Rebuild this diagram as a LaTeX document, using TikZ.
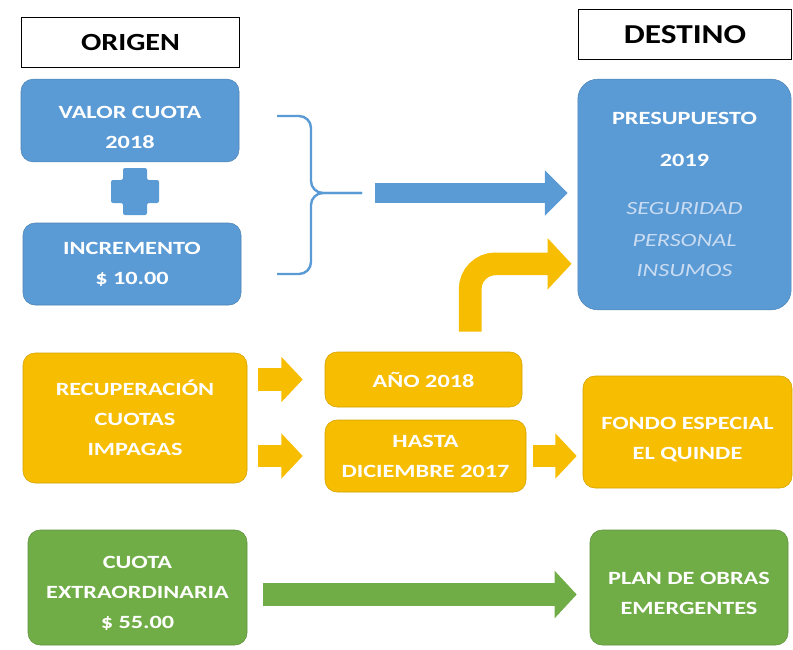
\documentclass[tikz,border=0pt]{standalone}
\usepackage{fontspec}
\setmainfont{Carlito}[FakeStretch=1.3]
\newfontfamily\hdrfont{Carlito}[FakeStretch=1.22]
\usetikzlibrary{arrows.meta}

\definecolor{cblue}{HTML}{5B9BD5}
\definecolor{cyellow}{HTML}{F7BD00}
\definecolor{cgreen}{HTML}{70AD47}
\definecolor{clight}{HTML}{CADCF2}

\newcommand{\lite}[1]{{\mdseries\itshape\color{clight}#1}}
\newcommand{\push}[1]{\rule{0pt}{#1}}

\tikzset{
  hdr/.style={draw=black, line width=0.9pt, fill=white, font=\hdrfont\bfseries\fontsize{18.5}{22}\selectfont},
  box/.style={rounded corners=9pt, align=center, text=white, line width=0.4pt,
    font=\bfseries\fontsize{14}{22.5}\selectfont},
  bbox/.style={box, fill=cblue, draw=cblue!85!black},
  ybox/.style={box, fill=cyellow, draw=cyellow!85!black},
  gbox/.style={box, fill=cgreen, draw=cgreen!85!black},
  yarr/.style={cyellow, line width=17pt, -{Triangle[length=16pt, width=33pt]}},
}

\begin{document}
\begin{tikzpicture}[x=0.75pt, y=-0.75pt]
\useasboundingbox (0,0) rectangle (793,650);

% headings
\node[hdr, minimum width=164pt, minimum height=37pt] (origen) at (130.5,42.5) {ORIGEN};
\node[hdr, minimum width=160pt, minimum height=37pt, font=\hdrfont\bfseries\fontsize{20.5}{24}\selectfont] (destino) at (685,34.5) {DESTINO};

% blue row
\node[bbox, minimum width=163.5pt, minimum height=62pt] (valor) at (130,120.5) {\push{20pt}VALOR CUOTA\\2018};
\node[bbox, minimum width=163.5pt, minimum height=61.5pt] (incremento) at (132,264) {INCREMENTO\\\$ 10.00};
\node[bbox, rounded corners=15pt, minimum width=160pt, minimum height=173pt] (presup) at (684.5,194.5)
  {PRESUPUESTO\\[9pt]2019\\[13.5pt]\lite{SEGURIDAD}\\[1.5pt]\lite{PERSONAL}\\\lite{INSUMOS}};

\fill[cblue, rounded corners=1.5pt] (123,168) -- (147,168) -- (147,180) -- (159,180) -- (159,203)
  -- (147,203) -- (147,215) -- (123,215) -- (123,203) -- (111,203) -- (111,180) -- (123,180) -- cycle;

\coordinate (tip) at (362,193);
\draw[cblue, line width=1.8pt, rounded corners=9pt] (277,116) -- (311,116) -- (311,193) -- (tip);
\draw[cblue, line width=1.8pt, rounded corners=9pt] (277,274) -- (311,274) -- (311,193) -- (tip);
\draw[cblue, line width=15pt, -{Triangle[length=17pt, width=33pt]}] ([xshift=9.75pt]tip) -- ([xshift=-7.5pt]tip -| presup.west);

% yellow row
\node[ybox, minimum width=168pt, minimum height=97.5pt] (recup) at (135,418) {RECUPERACIÓN\\CUOTAS\\IMPAGAS};
\node[ybox, minimum width=147.75pt, minimum height=41.25pt] (anio) at (423.5,379.5) {AÑO 2018};
\node[ybox, minimum width=150.75pt, minimum height=54pt] (hasta) at (425.5,456) {HASTA\\DICIEMBRE 2017};
\node[ybox, minimum width=156.75pt, minimum height=84pt] (fondo) at (687.5,432) {\push{20pt}FONDO ESPECIAL\\EL QUINDE};

\draw[yarr] ([xshift=8.25pt]recup.east |- anio.west) -- ([xshift=-16.5pt]anio.west);
\draw[yarr] ([xshift=8.25pt]recup.east |- hasta.west) -- ([xshift=-16.5pt]hasta.west);
\draw[yarr] ([xshift=5.25pt]hasta.east) -- ([xshift=-4.5pt]hasta.east -| fondo.west);
\draw[yarr, rounded corners=19pt, -{Triangle[length=18pt, width=37.5pt]}]
  ([xshift=35pt, yshift=15pt]anio.north) |- ([xshift=-4.5pt, yshift=-52pt]presup.west);

% green row
\node[gbox, minimum width=164.25pt, minimum height=86.25pt] (extra) at (137.5,587.5) {\push{18pt}CUOTA\\EXTRAORDINARIA\\\$ 55.00};
\node[gbox, minimum width=148.5pt, minimum height=86.25pt] (plan) at (689,587.5) {\push{18pt}PLAN DE OBRAS\\EMERGENTES};
\draw[cgreen, line width=17pt, -{Triangle[length=16.5pt, width=34.5pt]}] ([xshift=12pt, yshift=-5.25pt]extra.east) -- ([xshift=-9.75pt, yshift=-5.25pt]plan.west);
\end{tikzpicture}
\end{document}
